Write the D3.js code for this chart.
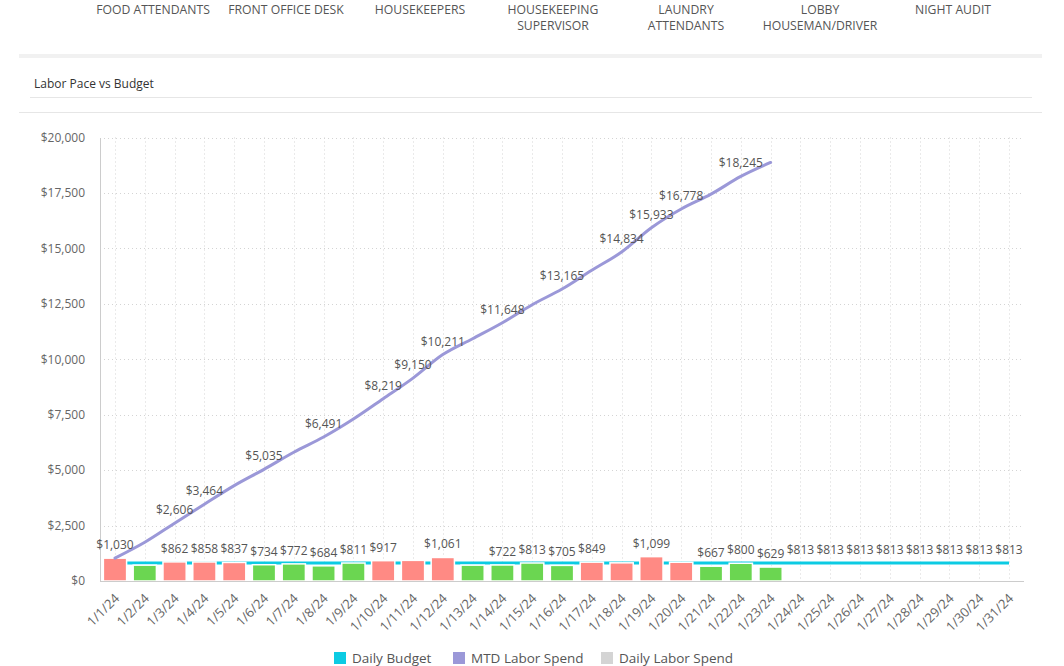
<!DOCTYPE html>
<html>
<head>
<meta charset="utf-8">
<script src="https://cdn.jsdelivr.net/npm/d3@7"></script>
<style>
  body { margin: 0; background: #fff; font-family: "Open Sans", sans-serif; }
  svg text { font-family: "Open Sans", sans-serif; }
</style>
</head>
<body>
<svg id="chart" width="1064" height="666"></svg>
<script>
// categories
const days = d3.range(1, 32).map(d => "1/" + d + "/24");

// daily labor spend (1/1 -> 1/23)
const dailySpend = [1030, 714, 862, 858, 837, 734, 772, 684, 811, 917, 931, 1061,
  715, 722, 812.7, 704.6, 849, 819.7, 1099, 845, 667, 800, 629];

// daily budget
const budget = days.map(() => 813);

// MTD labor spend
const mtd = [];
dailySpend.reduce((acc, v) => { acc += v; mtd.push(acc); return acc; }, 0);

// which labels are shown (the rest are hidden by the chart as overlapping)
const spendLabelShown = [1, 0, 1, 1, 1, 1, 1, 1, 1, 1, 0, 1, 0, 1, 1, 1, 1, 0, 1, 0, 1, 1, 1];
const mtdLabelShown   = [0, 0, 1, 1, 0, 1, 0, 1, 0, 1, 1, 1, 0, 1, 0, 1, 0, 1, 1, 1, 0, 1, 0];
const budgetLabelFrom = 23; // index of 1/24

const headerTabs = [
  ["FOOD ATTENDANTS"], ["FRONT OFFICE DESK"], ["HOUSEKEEPERS"],
  ["HOUSEKEEPING", "SUPERVISOR"], ["LAUNDRY", "ATTENDANTS"],
  ["LOBBY", "HOUSEMAN/DRIVER"], ["NIGHT AUDIT"]
];
const headerX = [153, 286, 420, 553, 686, 820, 953];

const yTicks = d3.range(0, 20001, 2500);

const legendItems = [
  { name: "Daily Budget", color: "#0ccbe3" },
  { name: "MTD Labor Spend", color: "#9b98d8" },
  { name: "Daily Labor Spend", color: "#d4d4d4" }
];

const svg = d3.select("#chart");
const fmt = d3.format("$,.0f");

// ---- top tabs
headerTabs.forEach((lines, i) => {
  const g = svg.append("g").attr("transform", `translate(${headerX[i]},0) scale(0.94,1)`);
  lines.forEach((l, j) => {
    g.append("text")
      .attr("x", 0).attr("y", 14 + j * 16)
      .attr("text-anchor", "middle")
      .attr("font-size", 13).attr("fill", "#555")
      .text(l);
  });
});

// separators + title
svg.append("rect").attr("x", 19).attr("y", 54).attr("width", 1023).attr("height", 4).attr("fill", "#f1f1f1");
svg.append("text").attr("x", 34).attr("y", 88).attr("font-size", 12).attr("fill", "#333")
  .text("Labor Pace vs Budget");
svg.append("line").attr("x1", 30).attr("x2", 1032).attr("y1", 97.5).attr("y2", 97.5).attr("stroke", "#e6e6e6");
svg.append("line").attr("x1", 19).attr("x2", 1042).attr("y1", 112.5).attr("y2", 112.5).attr("stroke", "#e6e6e6");

// ---- scales
const x = d3.scaleBand().domain(days).range([100, 1024]).paddingInner(0.22).paddingOuter(0.113);
const cx = d => x(d) + x.bandwidth() / 2;
const y = d3.scaleLinear().domain([0, 20000]).range([581, 137.5]);

// grid
svg.append("g").selectAll("line").data(yTicks.slice(1)).join("line")
  .attr("x1", 100).attr("x2", 1024)
  .attr("y1", d => Math.round(y(d)) + 0.5).attr("y2", d => Math.round(y(d)) + 0.5)
  .attr("stroke", "#d4d4d4").attr("stroke-dasharray", "1,3");
svg.append("g").selectAll("line").data(days).join("line")
  .attr("x1", d => Math.round(cx(d)) + 0.5).attr("x2", d => Math.round(cx(d)) + 0.5)
  .attr("y1", y(20000)).attr("y2", y(0))
  .attr("stroke", "#d4d4d4").attr("stroke-dasharray", "1,3");

// y axis
const yAxis = svg.append("g").attr("transform", "translate(100,0)")
  .call(d3.axisLeft(y).tickValues(yTicks).tickFormat(fmt).tickSize(0).tickPadding(15));
yAxis.select(".domain").attr("stroke", "#ccc");
yAxis.selectAll("text").attr("font-size", 12).attr("fill", "#666").attr("font-family", "Open Sans");

// budget line (behind bars)
const budgetLine = d3.line().x((d, i) => cx(days[i])).y(d => y(d));
svg.append("path").datum(budget).attr("d", budgetLine)
  .attr("fill", "none").attr("stroke", legendItems[0].color).attr("stroke-width", 3);

// bars
svg.append("g").selectAll("rect").data(dailySpend).join("rect")
  .attr("x", (d, i) => x(days[i]))
  .attr("width", x.bandwidth())
  .attr("y", d => y(d))
  .attr("height", d => y(0) - y(d))
  .attr("fill", (d, i) => d > budget[i] ? "#ff8a84" : "#6bd651")
  .attr("stroke", "#fff").attr("stroke-width", 1.5);

// x axis
const xAxis = svg.append("g").attr("transform", `translate(0,${y(0)})`)
  .call(d3.axisBottom(x).tickSize(0).tickSizeOuter(0));
xAxis.select(".domain").attr("stroke", "#ccc").attr("d", "M100,0.5H1024");
xAxis.selectAll("text")
  .attr("font-size", 13).attr("fill", "#666").attr("font-family", "Open Sans")
  .attr("text-anchor", "end")
  .attr("transform", "translate(2,15) rotate(-45)")
  .attr("dy", "0.35em").attr("y", 0);

// MTD line
const mtdLine = d3.line().x((d, i) => cx(days[i])).y(d => y(d)).curve(d3.curveMonotoneX);
svg.append("path").datum(mtd).attr("d", mtdLine)
  .attr("fill", "none").attr("stroke", legendItems[1].color).attr("stroke-width", 3)
  .attr("stroke-linecap", "round");

// labels
const labels = svg.append("g").attr("font-size", 12).attr("fill", "#555").attr("text-anchor", "middle");
dailySpend.forEach((v, i) => {
  if (!spendLabelShown[i]) return;
  labels.append("text").attr("x", cx(days[i])).attr("y", y(v) - 9).text(fmt(v));
});
mtd.forEach((v, i) => {
  if (!mtdLabelShown[i]) return;
  labels.append("text").attr("x", cx(days[i])).attr("y", y(v) - 9).text(fmt(v));
});
budget.forEach((v, i) => {
  if (i < budgetLabelFrom) return;
  labels.append("text").attr("x", cx(days[i])).attr("y", y(v) - 9).text(fmt(v));
});

// legend
const legendX = [334, 453, 601];
const lg = svg.append("g").attr("transform", "translate(0,658)");
legendItems.forEach((item, i) => {
  lg.append("rect").attr("x", legendX[i]).attr("y", -6).attr("width", 12).attr("height", 12).attr("fill", item.color);
  lg.append("text").attr("x", legendX[i] + 18).attr("y", 0).attr("dy", "0.35em")
    .attr("font-size", 13.5).attr("fill", "#555").text(item.name);
});
</script>
</body>
</html>
